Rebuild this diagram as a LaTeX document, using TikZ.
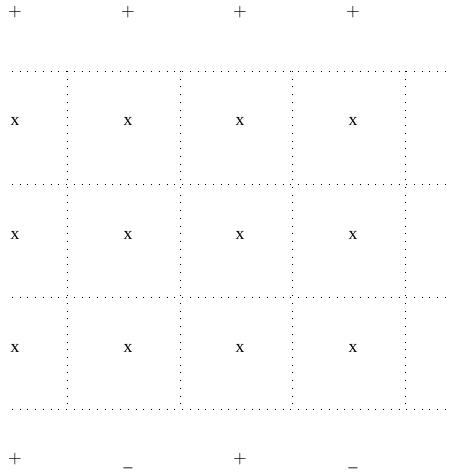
\documentclass[tikz,border=0pt]{standalone}
\usepackage{fontspec}
\setmainfont{Liberation Serif}
\usetikzlibrary{positioning}
\begin{document}
\begin{tikzpicture}[x=0.02cm,y=-0.02cm,
  sgn/.style={inner sep=0pt,anchor=base},
  cell/.style={inner sep=0pt,anchor=base},
  gl/.style={loosely dotted,thin}
]
  \useasboundingbox (0,0) rectangle (450,473);
  % grid
  \foreach \y in {71,184,297,409}{\draw[gl](12,\y)--(450,\y);}
  \foreach \x in {67,180,292,405}{\draw[gl](\x,71)--(\x,409);}
  % top row
  \node[sgn](T1) at (15,16.5)  {$+$};
  \node[sgn](T2) at (128,16.5) {$+$};
  \node[sgn](T3) at (240,16.5) {$+$};
  \node[sgn](T4) at (353,16.5) {$+$};
  % cells
  \node[cell](C11) at (15,126)  {x};
  \node[cell](C12) at (128,126) {x};
  \node[cell](C13) at (240,126) {x};
  \node[cell](C14) at (353,126) {x};
  \node[cell](C21) at (15,239)  {x};
  \node[cell](C22) at (128,239) {x};
  \node[cell](C23) at (240,239) {x};
  \node[cell](C24) at (353,239) {x};
  \node[cell](C31) at (15,352)  {x};
  \node[cell](C32) at (128,352) {x};
  \node[cell](C33) at (240,352) {x};
  \node[cell](C34) at (353,352) {x};
  % bottom row
  \node[sgn](B1) at (15,463.5)  {$+$};
  \node[sgn](B2) at (128,466) {\_};
  \node[sgn](B3) at (240,463.5) {$+$};
  \node[sgn](B4) at (353,466) {\_};
\end{tikzpicture}
\end{document}
